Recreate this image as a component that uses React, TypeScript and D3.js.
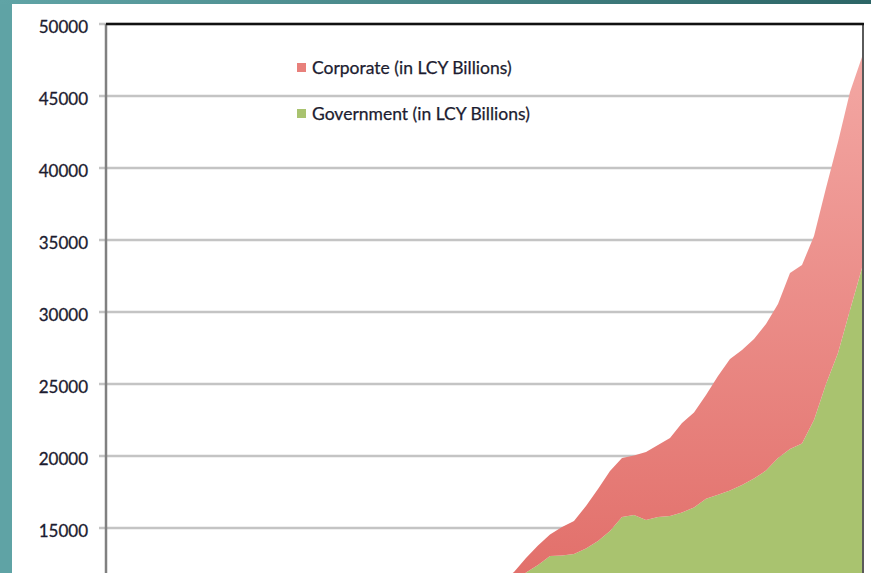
import { useRef, useEffect } from "react";
import * as d3 from "d3";

// one value per period, oldest first (x labels are not visible in the source)
const government: number[] = [
    1600, 1700, 1850, 1950, 2100, 2250, 2350, 2500, 2650, 2800,
    2950, 3100, 3300, 3450, 3650, 3850, 4050, 4300, 4550, 4800,
    5050, 5350, 5650, 5950, 6300, 6650, 7000, 7400, 7800, 8250,
    8900, 9500, 10000, 10600, 11181, 11910, 12431, 13056, 13090, 13194,
    13576, 14097, 14792, 15764, 15903, 15556, 15764, 15833, 16083, 16424,
    17035, 17312, 17597, 17986, 18437, 18986, 19861, 20486, 20868, 22500,
    25000, 27153, 30139, 33056
];

const corporate: number[] = [
    150, 160, 170, 180, 190, 200, 210, 220, 230, 240,
    250, 260, 270, 285, 300, 315, 330, 345, 360, 380,
    400, 420, 440, 460, 480, 500, 520, 545, 570, 600,
    630, 660, 690, 720, 763, 1007, 1347, 1500, 1979, 2292,
    2952, 3611, 4166, 4097, 4132, 4722, 5000, 5417, 6209, 6597,
    7201, 8244, 9139, 9375, 9688, 10181, 10695, 12222, 12396, 12778,
    13611, 14653, 15139, 14652
];

const yTicks: number[] = [15000, 20000, 25000, 30000, 35000, 40000, 45000, 50000];

const seriesNames: string[] = ["Corporate (in LCY Billions)", "Government (in LCY Billions)"];

const W = 871;
const H = 573;
const plot = { left: 106, top: 24, right: 863 };

export default function App() {
    const svgRef = useRef<SVGSVGElement>(null);

    useEffect(() => {
        const svg = d3.select(svgRef.current as SVGSVGElement);
        svg.selectAll("*").remove();

        // background
        const defs = svg.append("defs");
        const topGrad = defs.append("linearGradient").attr("id", "topGrad")
            .attr("x1", 0).attr("x2", 1).attr("y1", 0).attr("y2", 0);
        topGrad.append("stop").attr("offset", "0%").attr("stop-color", "#60a4a6");
        topGrad.append("stop").attr("offset", "100%").attr("stop-color", "#2c6566");

        const redGrad = defs.append("linearGradient").attr("id", "redGrad")
            .attr("gradientUnits", "userSpaceOnUse")
            .attr("x1", 0).attr("x2", 0).attr("y1", 57).attr("y2", H);
        redGrad.append("stop").attr("offset", "0%").attr("stop-color", "#f3a7a3");
        redGrad.append("stop").attr("offset", "100%").attr("stop-color", "#e2706b");

        defs.append("clipPath").attr("id", "plotClip")
            .append("rect")
            .attr("x", plot.left).attr("y", plot.top)
            .attr("width", plot.right - plot.left).attr("height", H - plot.top);

        svg.append("rect").attr("width", W).attr("height", H).attr("fill", "#5fa3a5");
        svg.append("rect").attr("width", W).attr("height", 4).attr("fill", "url(#topGrad)");
        svg.append("rect").attr("x", 12).attr("y", 4).attr("width", W - 12).attr("height", H - 4).attr("fill", "#ffffff");

        // scales
        const x = d3.scaleLinear().domain([0, government.length - 1]).range([plot.left, plot.right - 1]);
        const y = d3.scaleLinear().domain([15000, 50000]).range([528, plot.top]);

        // grid
        svg.append("g")
            .selectAll("line")
            .data(yTicks)
            .join("line")
            .attr("x1", plot.left - 7)
            .attr("x2", plot.right)
            .attr("y1", d => y(d))
            .attr("y2", d => y(d))
            .attr("stroke", "#c4c4c4")
            .attr("stroke-width", 2.5);

        // y labels
        svg.append("g")
            .selectAll("text")
            .data(yTicks)
            .join("text")
            .attr("x", 88)
            .attr("y", d => y(d) + 9)
            .attr("text-anchor", "end")
            .attr("font-family", "Lato, 'Open Sans', sans-serif")
            .attr("font-size", 17)
            .attr("fill", "#1c1c30")
            .attr("stroke", "#1c1c30")
            .attr("stroke-width", 0.3)
            .text(d => String(d));

        // stacked areas
        const rows = government.map((g, i) => ({ i, government: g, corporate: corporate[i] }));
        const stack = d3.stack<{ i: number; government: number; corporate: number }>()
            .keys(["government", "corporate"]);
        const stacked = stack(rows);

        const area = d3.area<d3.SeriesPoint<{ i: number; government: number; corporate: number }>>()
            .x(d => x(d.data.i))
            .y0(d => y(d[0]))
            .y1(d => y(d[1]));

        svg.append("g")
            .attr("clip-path", "url(#plotClip)")
            .selectAll("path")
            .data(stacked)
            .join("path")
            .attr("d", d => area(d) as string)
            .attr("fill", d => d.key === "government" ? "#a9c36f" : "url(#redGrad)");

        // frame
        svg.append("line")
            .attr("x1", plot.left).attr("x2", plot.left)
            .attr("y1", plot.top).attr("y2", H)
            .attr("stroke", "#808080").attr("stroke-width", 2.5);
        svg.append("line")
            .attr("x1", plot.right).attr("x2", plot.right)
            .attr("y1", plot.top).attr("y2", H)
            .attr("stroke", "#5a5a5a").attr("stroke-width", 2);
        svg.append("line")
            .attr("x1", plot.left).attr("x2", plot.right + 1)
            .attr("y1", plot.top).attr("y2", plot.top)
            .attr("stroke", "#111111").attr("stroke-width", 2.5);

        // legend
        const legendColors = ["#e8807b", "#a9c36f"];
        const legend = svg.append("g")
            .selectAll("g")
            .data(seriesNames)
            .join("g")
            .attr("transform", (_, i) => `translate(297,${63 + i * 46})`);
        legend.append("rect")
            .attr("width", 9).attr("height", 9)
            .attr("fill", (_, i) => legendColors[i]);
        legend.append("text")
            .attr("x", 15)
            .attr("y", 11)
            .attr("font-family", "Lato, 'Open Sans', sans-serif")
            .attr("font-size", 17.5)
            .attr("fill", "#1c1c30")
            .attr("stroke", "#1c1c30")
            .attr("stroke-width", 0.25)
            .text(d => d);
    }, []);

    return (
        <div style={{ position: "fixed", left: 0, top: 0 }}>
            <svg ref={svgRef} width={W} height={H} style={{ display: "block" }} />
        </div>
    );
}
